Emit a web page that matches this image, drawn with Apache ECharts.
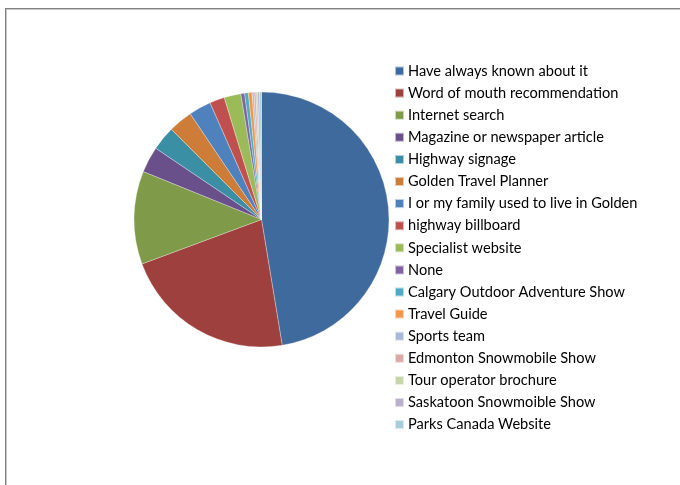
<!DOCTYPE html>
<html>
<head>
<meta charset="utf-8">
<script src="https://cdn.jsdelivr.net/npm/echarts@6/dist/echarts.min.js"></script>
<style>
  html, body { margin: 0; padding: 0; width: 680px; height: 485px; overflow: hidden; background: #fff; }
  #frame {
    position: absolute; left: 5px; top: 8px; width: 740px; height: 540px;
    border-left: 1px solid #7f7f7f; border-top: 1px solid #7f7f7f;
    box-shadow: inset 1px 1px 0 #c8c8c8;
  }
  #chart { position: absolute; left: 0; top: 0; width: 680px; height: 485px; }
</style>
</head>
<body>
<div id="frame"></div>
<div id="chart"></div>
<script>
// How visitors heard about Golden (number of responses)
const categories = [
  'Have always known about it',
  'Word of mouth recommendation',
  'Internet search',
  'Magazine or newspaper article',
  'Highway signage',
  'Golden Travel Planner',
  'I or my family used to live in Golden',
  'highway billboard',
  'Specialist website',
  'None',
  'Calgary Outdoor Adventure Show',
  'Travel Guide',
  'Sports team',
  'Edmonton Snowmobile Show',
  'Tour operator brochure',
  'Saskatoon Snowmoible Show',
  'Parks Canada Website'
];
const responses = [201, 93, 50, 14, 13, 13, 12, 8, 9, 2, 2, 2, 1, 1, 1, 1, 1];
const sliceColors = [
  '#3f6a9e', '#9e413e', '#7f9a48', '#69508a', '#3b8fa4', '#cd7d38',
  '#4f81bd', '#c0504d', '#9bbb59', '#8064a2', '#4bacc6', '#f79646',
  '#a9b9d8', '#dba9a8', '#c9d6ac', '#bab0cb', '#a7ced9'
];

const chart = echarts.init(document.getElementById('chart'), null, { renderer: 'canvas' });
chart.setOption({
  animation: false,
  color: sliceColors,
  legend: {
    orient: 'vertical',
    left: 389,
    top: 58,
    itemWidth: 9,
    itemHeight: 9,
    itemGap: 6.1,
    icon: 'rect',
    selectedMode: false,
    textStyle: { fontFamily: 'Lato', fontSize: 14.6, color: '#000', lineHeight: 16, padding: [0, 0, 0, -1] },
    data: categories
  },
  series: [{
    type: 'pie',
    center: [261.5, 219.5],
    radius: 127.5,
    startAngle: 90,
    clockwise: true,
    label: { show: false },
    labelLine: { show: false },
    emphasis: { disabled: true },
    itemStyle: { borderColor: 'rgba(255,255,255,0.6)', borderWidth: 0.5 },
    data: categories.map((name, i) => ({ name, value: responses[i] }))
  }]
});
</script>
</body>
</html>
